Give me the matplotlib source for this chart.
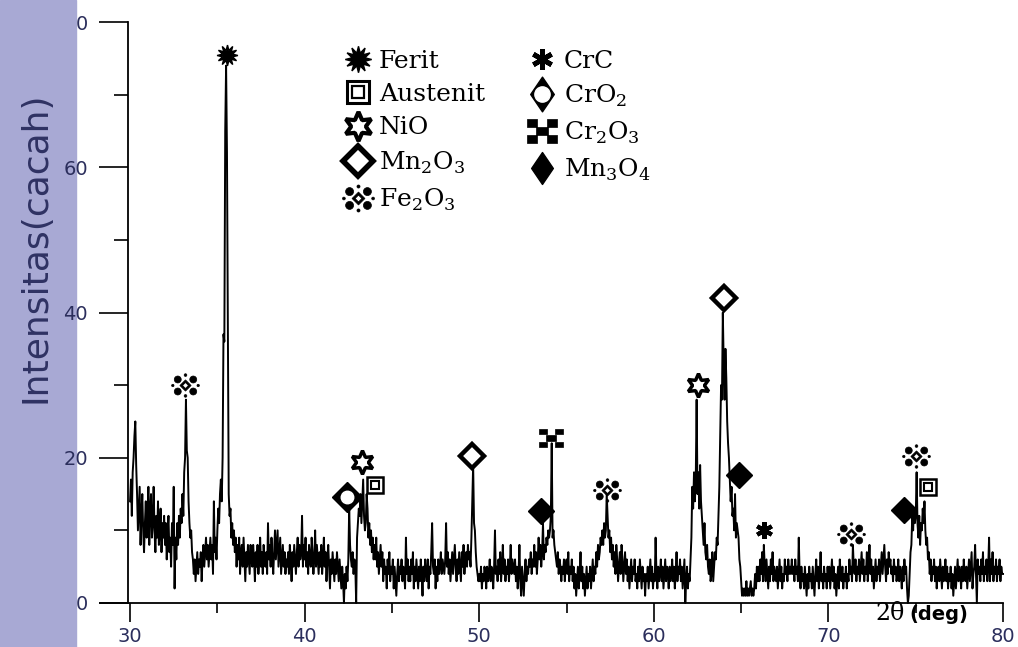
import matplotlib
matplotlib.use('Agg')
import matplotlib.pyplot as plt
import numpy as np
from matplotlib.path import Path
from matplotlib.lines import Line2D
from matplotlib.patches import Rectangle
from matplotlib.ticker import MultipleLocator

plt.rcParams['mathtext.fontset'] = 'custom'
plt.rcParams['mathtext.rm'] = 'DejaVu Serif'

# pola XRD, langkah 0.05 derajat dari 30 sampai 80
counts = [
    14, 17, 12, 18, 20, 23, 25, 19, 15, 10, 13, 16, 8, 12, 15, 10, 7, 11, 14, 9,      # 30
    12, 16, 8, 13, 15, 9, 11, 16, 10, 7, 12, 9, 14, 8, 10, 13, 7, 11, 9, 12,           # 31
    8, 11, 6, 10, 12, 7, 9, 5, 11, 8, 16, 2, 9, 6, 11, 8, 12, 9, 13, 11,               # 32
    15, 12, 18, 20, 28, 21, 20, 14, 11, 9, 10, 7, 6, 4, 6, 3, 5, 7, 4, 6,              # 33
    5, 7, 3, 6, 8, 5, 7, 9, 6, 8, 5, 7, 9, 6, 8, 4, 14, 7, 9, 6,                       # 34
    10, 13, 11, 15, 17, 14, 20, 37, 36, 65, 74, 62, 37, 15, 12, 13, 9, 11, 8, 10,      # 35
    7, 9, 5, 8, 6, 9, 4, 7, 8, 5, 9, 6, 3, 7, 5, 8, 6, 4, 8, 6,                        # 36
    5, 8, 6, 3, 7, 5, 8, 4, 6, 9, 5, 7, 4, 8, 6, 5, 7, 4, 11, 6,                       # 37
    8, 5, 9, 6, 4, 7, 10, 6, 8, 10, 5, 7, 9, 4, 6, 8, 5, 7, 4, 6,                      # 38
    5, 7, 4, 8, 6, 3, 7, 5, 8, 6, 4, 7, 9, 5, 8, 6, 7, 12, 5, 8,                       # 39
    6, 9, 5, 7, 4, 8, 6, 5, 9, 7, 4, 6, 10, 5, 8, 6, 4, 7, 5, 8,                       # 40
    4, 6, 9, 5, 7, 3, 6, 8, 5, 2, 6, 4, 7, 5, 3, 6, 4, 7, 5, 3,                        # 41
    6, 4, 2, 5, 3, 0, 4, 2, 5, 3, 6, 13, 8, 6, 5, 7, 4, 6, 5, 0,                       # 42
    9, 11, 13, 12, 15, 11, 14, 17, 12, 10, 11, 15, 13, 9, 11, 8, 10, 7, 9, 6,          # 43
    8, 6, 9, 5, 7, 4, 6, 8, 5, 7, 3, 6, 4, 5, 2, 6, 4, 7, 3, 5,                        # 44
    4, 6, 2, 5, 3, 1, 4, 6, 3, 5, 4, 6, 3, 5, 4, 2, 9, 4, 6, 3,                        # 45
    5, 3, 6, 4, 7, 2, 5, 3, 6, 4, 2, 5, 3, 6, 4, 1, 5, 3, 6, 4,                        # 46
    3, 6, 2, 5, 4, 7, 11, 5, 4, 6, 2, 5, 3, 6, 4, 5, 7, 4, 6, 5,                       # 47
    4, 6, 11, 5, 7, 4, 6, 3, 5, 7, 4, 6, 8, 5, 3, 6, 4, 7, 5, 3,                       # 48
    7, 5, 8, 4, 6, 7, 5, 8, 6, 7, 5, 9, 14, 19, 11, 10, 7, 5, 4, 3,                    # 49
    4, 3, 5, 2, 4, 3, 5, 4, 2, 5, 3, 4, 6, 3, 5, 4, 2, 5, 10, 4,                       # 50
    5, 3, 6, 4, 7, 3, 5, 8, 4, 6, 3, 5, 4, 6, 3, 5, 8, 4, 6, 5,                        # 51
    4, 6, 3, 5, 2, 4, 8, 3, 1, 5, 3, 1, 4, 6, 3, 5, 4, 6, 5, 7,                        # 52
    4, 6, 5, 8, 5, 7, 4, 6, 9, 6, 8, 5, 7, 11, 6, 8, 7, 9, 8, 10,                      # 53
    9, 10, 12, 22, 9, 10, 8, 7, 6, 5, 7, 4, 6, 5, 3, 5, 4, 6, 3, 5,                    # 54
    6, 4, 7, 3, 5, 4, 6, 3, 5, 2, 4, 1, 3, 5, 2, 4, 7, 3, 5, 2,                        # 55
    4, 1, 3, 5, 2, 4, 3, 5, 2, 4, 6, 3, 5, 4, 7, 5, 8, 6, 7, 9,                        # 56
    8, 10, 8, 11, 9, 10, 15, 12, 9, 10, 7, 9, 6, 8, 5, 7, 4, 8, 6, 3,                  # 57
    5, 7, 4, 8, 6, 3, 5, 7, 4, 6, 3, 5, 2, 4, 6, 3, 5, 4, 6, 3,                        # 58
    4, 2, 5, 3, 6, 4, 2, 5, 3, 4, 1, 4, 3, 5, 2, 4, 6, 3, 5, 2,                        # 59
    4, 3, 9, 4, 2, 5, 3, 4, 6, 3, 5, 2, 4, 6, 3, 5, 4, 2, 5, 3,                        # 60
    4, 6, 3, 5, 2, 4, 7, 3, 5, 4, 6, 3, 5, 2, 4, 6, 0, 3, 5, 2,                        # 61
    4, 3, 6, 9, 16, 13, 18, 14, 17, 28, 15, 18, 13, 19, 14, 12, 10, 8, 11, 7,          # 62
    6, 8, 5, 4, 6, 3, 4, 7, 3, 5, 7, 6, 9, 8, 12, 16, 23, 30, 28, 40,                  # 63
    33, 28, 35, 31, 25, 22, 20, 17, 14, 16, 12, 13, 10, 15, 9, 11, 10, 9, 6, 5,        # 64
    3, 1, 2, 1, 2, 1, 3, 1, 2, 1, 2, 3, 1, 2, 1, 2, 4, 2, 5, 3,                        # 65
    5, 3, 6, 4, 7, 3, 8, 5, 3, 6, 4, 2, 5, 3, 6, 4, 7, 3, 5, 4,                        # 66
    3, 5, 2, 4, 6, 3, 5, 2, 4, 3, 6, 4, 5, 3, 6, 4, 5, 4, 6, 4,                        # 67
    5, 3, 6, 4, 5, 3, 9, 4, 2, 5, 3, 4, 2, 5, 3, 1, 4, 2, 5, 3,                        # 68
    4, 2, 5, 3, 1, 4, 6, 3, 5, 2, 4, 7, 3, 4, 2, 5, 3, 4, 2, 5,                        # 69
    3, 5, 2, 4, 6, 3, 5, 2, 4, 1, 3, 5, 2, 6, 4, 3, 5, 2, 4, 3,                        # 70
    5, 2, 4, 3, 6, 4, 5, 3, 8, 5, 4, 6, 3, 5, 4, 6, 3, 5, 7, 4,                        # 71
    6, 3, 5, 4, 7, 3, 5, 8, 4, 6, 3, 5, 2, 4, 6, 3, 5, 4, 6, 3,                        # 72
    5, 7, 4, 6, 8, 5, 3, 6, 4, 7, 5, 6, 4, 5, 3, 6, 4, 5, 3, 4,                        # 73
    6, 3, 5, 4, 2, 5, 3, 6, 4, 5, 2, 0, 1, 4, 7, 8, 12, 10, 13, 11,                    # 74
    12, 18, 11, 9, 12, 8, 11, 10, 13, 11, 14, 10, 8, 9, 6, 7, 4, 6, 3, 5,              # 75
    4, 6, 3, 5, 2, 4, 5, 3, 6, 4, 2, 5, 3, 4, 6, 3, 5, 2, 4, 3,                        # 76
    5, 2, 4, 1, 3, 5, 2, 4, 6, 3, 5, 4, 2, 5, 3, 6, 4, 3, 5, 2,                        # 77
    4, 6, 3, 5, 7, 2, 4, 5, 8, 4, 0, 6, 4, 5, 3, 6, 4, 7, 3, 5,                        # 78
    4, 6, 3, 5, 9, 3, 6, 4, 7, 3, 5, 4, 6, 3, 5, 4, 6, 3, 5, 4,                        # 79
    4,
]
two_theta = np.linspace(30, 80, len(counts))

# posisi simbol fasa di atas puncak
phase_names = ['Ferit', 'Austenit', 'NiO', 'Mn$_2$O$_3$', 'Fe$_2$O$_3$',
               'CrC', 'CrO$_2$', 'Cr$_2$O$_3$', 'Mn$_3$O$_4$']
peak_pos = [35.55, 33.15, 42.45, 43.3, 44.0, 49.6, 53.55, 54.13, 57.33,
            62.5, 64.0, 64.85, 66.33, 71.3, 74.3, 75.04, 75.73]
peak_top = [75.5, 30.0, 14.6, 19.4, 16.3, 20.2, 12.7, 22.7, 15.6,
            30.0, 42.0, 17.6, 10.0, 9.5, 12.8, 20.3, 16.0]
peak_phase = ['Ferit', 'Fe$_2$O$_3$', 'CrO$_2$', 'NiO', 'Austenit', 'Mn$_2$O$_3$',
              'Mn$_3$O$_4$', 'Cr$_2$O$_3$', 'Fe$_2$O$_3$', 'NiO', 'Mn$_2$O$_3$',
              'Mn$_3$O$_4$', 'CrC', 'Fe$_2$O$_3$', 'Mn$_3$O$_4$', 'Fe$_2$O$_3$', 'Austenit']


def rect(x0, y0, x1, y1, ccw=True):
    v = [(x0, y0), (x1, y0), (x1, y1), (x0, y1)]
    if not ccw:
        v = v[::-1]
    return Path(v + [v[0]], [Path.MOVETO, Path.LINETO, Path.LINETO, Path.LINETO, Path.CLOSEPOLY])


def diamond(rx, ry=None, ccw=True):
    ry = rx if ry is None else ry
    v = [(rx, 0), (0, ry), (-rx, 0), (0, -ry)]
    if not ccw:
        v = v[::-1]
    return Path(v + [v[0]], [Path.MOVETO, Path.LINETO, Path.LINETO, Path.LINETO, Path.CLOSEPOLY])


# Cr2O3: empat kotak di sudut + kotak tengah
cr2o3_path = Path.make_compound_path(
    rect(-1, 0.3, -0.35, 0.8), rect(0.35, 0.3, 1, 0.8),
    rect(-1, -0.8, -0.35, -0.3), rect(0.35, -0.8, 1, -0.3),
    rect(-0.4, -0.25, 0.4, 0.25))

# Fe2O3: belah ketupat berlubang dikelilingi bulatan
fe2o3_path = Path.make_compound_path(
    diamond(0.42), diamond(0.22, ccw=False),
    Path.circle((0.58, 0.45), 0.26), Path.circle((-0.58, 0.45), 0.26),
    Path.circle((0.58, -0.45), 0.26), Path.circle((-0.58, -0.45), 0.26),
    Path.circle((0, 0.78), 0.1), Path.circle((0, -0.78), 0.1),
    Path.circle((0.95, 0), 0.09), Path.circle((-0.95, 0), 0.09))

tall_diamond = diamond(0.68, 1.0)

styles = {
    'Ferit': [dict(marker=(12, 1, 0), ms=15, mfc='k', mec='k')],
    'Austenit': [dict(marker='s', ms=12, mfc='white', mec='k', mew=1.8),
                 dict(marker='s', ms=6, mfc='white', mec='k', mew=1.5)],
    'NiO': [dict(marker=(6, 1, 0), ms=17, mfc='white', mec='k', mew=2.5)],
    'Mn$_2$O$_3$': [dict(marker='D', ms=12, mfc='white', mec='k', mew=3.2)],
    'Fe$_2$O$_3$': [dict(marker=fe2o3_path, ms=20, mfc='k', mec='k', mew=0.5)],
    'CrC': [dict(marker=(6, 2, 0), ms=12, mec='k', mew=3)],
    'CrO$_2$': [dict(marker='D', ms=15, mfc='k', mec='k'),
                dict(marker='o', ms=9, mfc='white', mec='white')],
    'Cr$_2$O$_3$': [dict(marker=cr2o3_path, ms=17, mfc='k', mec='k', mew=0.5)],
    'Mn$_3$O$_4$': [dict(marker='D', ms=13, mfc='k', mec='k')],
}

# simbol di legenda digambar sedikit lebih besar
legend_styles = {
    'Ferit': [dict(marker=(12, 1, 0), ms=19, mfc='k', mec='k')],
    'Austenit': [dict(marker='s', ms=16, mfc='white', mec='k', mew=2.2),
                 dict(marker='s', ms=8, mfc='white', mec='k', mew=1.6)],
    'NiO': [dict(marker=(6, 1, 0), ms=21, mfc='white', mec='k', mew=3)],
    'Mn$_2$O$_3$': [dict(marker='D', ms=15, mfc='white', mec='k', mew=4)],
    'Fe$_2$O$_3$': [dict(marker=fe2o3_path, ms=23, mfc='k', mec='k', mew=0.5)],
    'CrC': [dict(marker=(6, 2, 0), ms=15, mec='k', mew=3.5)],
    'CrO$_2$': [dict(marker=tall_diamond, ms=25, mfc='k', mec='k'),
                dict(marker='o', ms=11, mfc='white', mec='white')],
    'Cr$_2$O$_3$': [dict(marker=cr2o3_path, ms=21, mfc='k', mec='k', mew=0.5)],
    'Mn$_3$O$_4$': [dict(marker=tall_diamond, ms=23, mfc='k', mec='k')],
}

fig = plt.figure(figsize=(10.18, 6.47), dpi=100)
fig.patches.append(Rectangle((0, 0), 76 / 1018, 1, transform=fig.transFigure,
                             color='#a8a9d4', zorder=-1))
ax = fig.add_axes([0.0969, 0.0321, 0.8987, 0.9394])
ax.set_xlim(28.2, 80.6)
ax.set_ylim(-3.2, 80.5)

ax.plot(two_theta, counts, color='k', lw=1.4)

for x, y, name in zip(peak_pos, peak_top, peak_phase):
    for st in styles[name]:
        ax.plot([x], [y], ls='none', zorder=5, **st)

for s in ['top', 'right']:
    ax.spines[s].set_visible(False)
ax.spines['left'].set_position(('data', 29.9))
ax.spines['bottom'].set_position(('data', 0))
ax.spines['left'].set_bounds(0, 80)
ax.spines['bottom'].set_bounds(28.3, 80)
for s in ['left', 'bottom']:
    ax.spines[s].set_linewidth(1.3)

ax.set_xticks([30, 40, 50, 60, 70, 80])
ax.xaxis.set_minor_locator(MultipleLocator(5))
ax.set_yticks([0, 20, 40, 60, 80])
ax.set_yticklabels(['0', '20', '40', '60', '0'])
ax.yaxis.set_minor_locator(MultipleLocator(10))
navy = '#2b2e5c'
ax.tick_params(axis='x', which='major', direction='out', length=14, width=1.2,
               pad=3, labelsize=14, labelcolor=navy)
ax.tick_params(axis='x', which='minor', direction='out', length=7, width=1.2)
ax.tick_params(axis='y', which='major', direction='out', length=21, width=1.2,
               pad=8, labelsize=14, labelcolor=navy)
ax.tick_params(axis='y', which='minor', direction='out', length=10, width=1.2)

fig.text(0.035, 0.618, 'Intensitas(cacah)', rotation=90, ha='center', va='center',
         fontsize=26, color='#2f3263')
fig.text(875 / 1018, 1 - 614 / 647, '2θ', fontsize=17, family='DejaVu Serif',
         va='center', ha='left')
fig.text(909 / 1018, 1 - 614 / 647, '(deg)', fontsize=14, fontweight='bold',
         va='center', ha='left')

handles = []
for name in phase_names:
    handles.append(tuple(Line2D([], [], ls='none', **st) for st in legend_styles[name]))
leg = ax.legend(handles, phase_names, ncol=2, frameon=False, loc='upper left',
                bbox_to_anchor=(330 / 1018, 1 - 37 / 647), bbox_transform=fig.transFigure,
                prop={'family': 'DejaVu Serif', 'size': 18},
                handlelength=1.2, handletextpad=0.25, labelspacing=0.42,
                columnspacing=1.7, borderpad=0)

fig.savefig('out.png', dpi=100)
